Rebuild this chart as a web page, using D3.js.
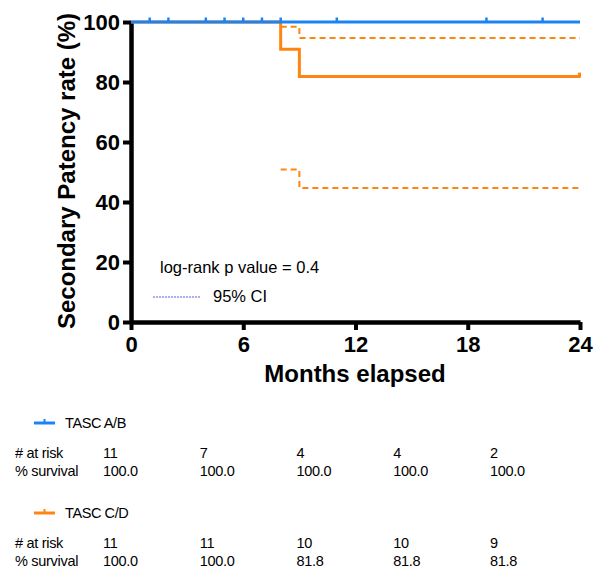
<!DOCTYPE html>
<html><head><meta charset="utf-8">
<script src="https://cdn.jsdelivr.net/npm/d3@7"></script>
<style>body{margin:0;background:#fff}svg{display:block}</style>
</head><body>
<script>
const xTicks = [0, 6, 12, 18, 24];
const yTicks = [0, 20, 40, 60, 80, 100];
// Kaplan-Meier steps
const abTimes = [0, 24];
const abSurv = [100, 100];
const abCensor = [1, 2, 4, 5, 6, 7, 8, 11, 19, 22];
const cdTimes = [0, 8, 9, 24];
const cdSurv = [100, 90.9, 81.8, 81.8];
const cdCensor = [24];
const ciTimes = [8, 9, 24];
const cdUpper = [98.4, 94.7, 94.7];
const cdLower = [50.8, 44.7, 44.7];
// risk table
const tableCols = ["c0", "c1", "c2", "c3", "c4"];
const abAtRisk = ["11", "7", "4", "4", "2"];
const abPct = ["100.0", "100.0", "100.0", "100.0", "100.0"];
const cdAtRisk = ["11", "11", "10", "10", "9"];
const cdPct = ["100.0", "100.0", "81.8", "81.8", "81.8"];

const W = 603, H = 568;
const blue = "#1a84f5", orange = "#ff8510";
const svg = d3.select("body").append("svg").attr("width", W).attr("height", H)
  .style("font-family", "'Liberation Sans', Arial, sans-serif");

const x = d3.scaleLinear().domain([0, 24]).range([131, 580]);
const y = d3.scaleLinear().domain([0, 100]).range([322, 22]);

// axes
const xAxis = svg.append("g").attr("transform", `translate(0,${y(0)})`)
  .call(d3.axisBottom(x).tickValues(xTicks).tickSize(8).tickSizeOuter(0).tickPadding(6));
const yAxis = svg.append("g").attr("transform", `translate(${x(0)},0)`)
  .call(d3.axisLeft(y).tickValues(yTicks).tickSize(8).tickSizeOuter(0).tickPadding(3));
[xAxis, yAxis].forEach(a => {
  a.select(".domain").attr("stroke", "#000").attr("stroke-width", 4.5);
  a.selectAll(".tick line").attr("stroke", "#000").attr("stroke-width", 4);
  a.selectAll(".tick text").attr("fill", "#000").style("font-size", "22px").style("font-weight", "bold")
    .style("font-family", "'Liberation Sans', Arial, sans-serif");
});
yAxis.selectAll(".tick text").attr("dy", "0.36em");

const step = (ts, vs) => {
  const pts = ts.map((t, i) => [t, vs[i]]);
  return d3.line().curve(d3.curveStepAfter).x(d => x(d[0])).y(d => y(d[1]))(pts);
};

// C/D curves
svg.append("path").attr("d", step(ciTimes, cdUpper)).attr("fill", "none")
  .attr("stroke", orange).attr("stroke-width", 2).attr("stroke-dasharray", "6,4");
svg.append("path").attr("d", step(ciTimes, cdLower)).attr("fill", "none")
  .attr("stroke", orange).attr("stroke-width", 2).attr("stroke-dasharray", "6,4");
svg.append("path").attr("d", step(cdTimes, cdSurv)).attr("fill", "none")
  .attr("stroke", orange).attr("stroke-width", 3);
const cdAt = t => { let v = cdSurv[0]; cdTimes.forEach((tt, i) => { if (tt <= t) v = cdSurv[i]; }); return v; };
svg.selectAll(".cdc").data(cdCensor).enter().append("line")
  .attr("x1", d => x(d) - 0.5).attr("x2", d => x(d) - 0.5)
  .attr("y1", d => y(cdAt(d)) + 1).attr("y2", d => y(cdAt(d)) - 4)
  .attr("stroke", orange).attr("stroke-width", 3);

// A/B curve
svg.append("path").attr("d", step(abTimes, abSurv)).attr("fill", "none")
  .attr("stroke", blue).attr("stroke-width", 3);
svg.selectAll(".abc").data(abCensor).enter().append("line")
  .attr("x1", d => x(d)).attr("x2", d => x(d))
  .attr("y1", y(100)).attr("y2", y(100) - 4.5)
  .attr("stroke", blue).attr("stroke-width", 2.5);

// axis titles
svg.append("text").attr("x", 355).attr("y", 382).attr("text-anchor", "middle")
  .style("font-size", "24px").style("font-weight", "bold").text("Months elapsed");
svg.append("text").attr("transform", "translate(75,171) rotate(-90)").attr("text-anchor", "middle")
  .style("font-size", "24px").style("font-weight", "bold").text("Secondary Patency rate (%)");

// annotations
svg.append("text").attr("x", 160).attr("y", 273).style("font-size", "16.5px").text("log-rank p value = 0.4");
svg.append("line").attr("x1", 153).attr("x2", 201).attr("y1", 297).attr("y2", 297)
  .attr("stroke", "#a9aff4").attr("stroke-width", 2).attr("stroke-dasharray", "2,1");
svg.append("text").attr("x", 213).attr("y", 302).style("font-size", "16.5px").text("95% CI");

// risk table
const cx = d3.scalePoint().domain(tableCols).range([103, 490]);
function group(y0, color, name, atRisk, pct) {
  svg.append("line").attr("x1", 34).attr("x2", 55).attr("y1", y0).attr("y2", y0)
    .attr("stroke", color).attr("stroke-width", 3);
  svg.append("line").attr("x1", 44.5).attr("x2", 44.5).attr("y1", y0).attr("y2", y0 - 4)
    .attr("stroke", color).attr("stroke-width", 2);
  svg.append("text").attr("x", 65).attr("y", y0 + 5).style("font-size", "14.5px")
    .style("letter-spacing", "-0.4px").text(name);
  const r1 = y0 + 35, r2 = y0 + 53;
  const t = (xx, yy, s) => svg.append("text").attr("x", xx).attr("y", yy)
    .style("font-size", "14.5px").style("letter-spacing", "-0.3px").text(s);
  t(15, r1, "# at risk");
  t(15, r2, "% survival");
  atRisk.forEach((d, i) => t(cx(tableCols[i]), r1, d));
  pct.forEach((d, i) => t(cx(tableCols[i]), r2, d));
}
group(423, blue, "TASC A/B", abAtRisk, abPct);
group(513, orange, "TASC C/D", cdAtRisk, cdPct);
</script>
</body></html>
